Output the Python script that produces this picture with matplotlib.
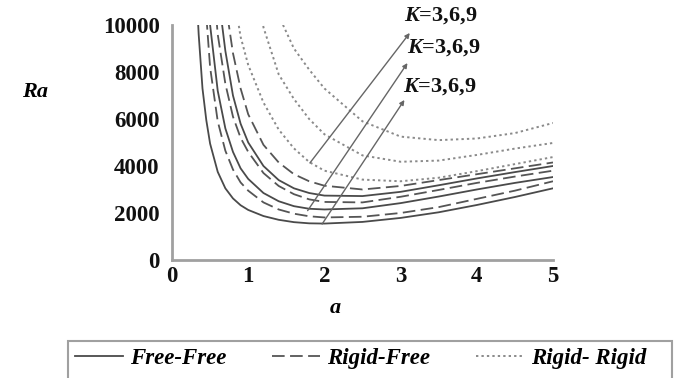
import numpy as np
import matplotlib
matplotlib.use("Agg")
import matplotlib.pyplot as plt
from matplotlib.lines import Line2D
from matplotlib.patches import Rectangle

plt.rcParams['font.family'] = ['Liberation Serif', 'DejaVu Serif']
plt.rcParams['mathtext.fontset'] = 'custom'
plt.rcParams['mathtext.it'] = 'Liberation Serif:bold:italic'
plt.rcParams['mathtext.rm'] = 'Liberation Serif:bold'

nan = np.nan
a_grid = [0.3, 0.35, 0.4, 0.45, 0.5, 0.6, 0.7, 0.8, 0.9, 1.0, 1.2, 1.4, 1.6, 1.8,
          2.0, 2.5, 3.0, 3.5, 4.0, 4.5, 5.0]

# Free-Free (solid), K = 3, 6, 9
ff_k3 = [12800, 9600, 7300, 5950, 4950, 3750, 3050, 2620, 2330, 2130, 1870, 1710, 1610, 1560,
         1550, 1620, 1790, 2030, 2340, 2680, 3050]
ff_k6 = [nan, 25000, 17000, 12500, 10000, 7200, 5600, 4600, 3900, 3450, 2850, 2500, 2290, 2180,
         2150, 2200, 2420, 2700, 3000, 3280, 3530]
ff_k9 = [nan, nan, 35000, 24000, 18000, 11500, 8900, 7000, 5800, 5000, 4000, 3400, 3050, 2850,
         2740, 2720, 2900, 3180, 3470, 3740, 4000]
# Rigid-Free (dashed), K = 3, 6, 9
rf_k3 = [nan, 20000, 13500, 10400, 8200, 5900, 4650, 3850, 3300, 2950, 2450, 2150, 1970, 1860,
         1810, 1840, 2000, 2250, 2600, 2950, 3350]
rf_k6 = [nan, 40000, 25000, 17500, 13500, 9600, 7500, 6100, 5200, 4600, 3700, 3150, 2800, 2580,
         2470, 2450, 2690, 2980, 3280, 3550, 3800]
rf_k9 = [nan, nan, nan, nan, 25000, 16000, 11000, 8800, 7300, 6200, 4900, 4150, 3650, 3350,
         3160, 3000, 3150, 3400, 3650, 3900, 4150]
# Rigid-Rigid (dotted), K = 3, 6, 9
rr_k3 = [nan, nan, nan, nan, nan, 25000, 17000, 11500, 9500, 8300, 6700, 5550, 4750, 4170,
         3800, 3420, 3350, 3500, 3780, 4080, 4380]
rr_k6 = [nan, nan, nan, nan, nan, nan, nan, nan, 22000, 15000, 9900, 7900, 6850, 6000,
         5350, 4450, 4180, 4230, 4470, 4740, 4980]
rr_k9 = [nan, nan, nan, nan, nan, nan, nan, nan, nan, nan, 13500, 10400, 9000, 8100,
         7300, 5900, 5250, 5100, 5170, 5400, 5830]

legend_labels = ['Free-Free', 'Rigid-Free', 'Rigid- Rigid']
k_label = '$K$=3,6,9'

# arrows (tail a, tail Ra, head a, head Ra): Free-Free, Rigid-Free, Rigid-Rigid
arrow_tail_a = [1.97, 1.78, 1.81]
arrow_tail_ra = [1530, 2100, 4130]
arrow_head_a = [3.05, 3.09, 3.12]
arrow_head_ra = [6810, 8380, 9660]
label_a = [3.03, 3.08, 3.05]
label_ra = [7360, 9020, 10380]

yticks = [0, 2000, 4000, 6000, 8000, 10000]
xticks = [0, 1, 2, 3, 4, 5]

fig = plt.figure(figsize=(6.74, 3.78), dpi=100)
ax = fig.add_axes([0.2552, 0.3122, 0.5653, 0.6217])

solid_style = dict(color='#4a4a4a', lw=1.3, ls='-')
dash_style = dict(color='#555555', lw=1.3, ls=(0, (7, 3)))
dot_style = dict(color='#8a8a8a', lw=1.4, ls=(0, (1.2, 1.6)))

for s in (ff_k3, ff_k6, ff_k9):
    ax.plot(a_grid, s, **solid_style)
for s in (rf_k3, rf_k6, rf_k9):
    ax.plot(a_grid, s, **dash_style)
for s in (rr_k3, rr_k6, rr_k9):
    ax.plot(a_grid, s, **dot_style)

for i in range(3):
    ax.annotate('', xy=(arrow_head_a[i], arrow_head_ra[i]),
                xytext=(arrow_tail_a[i], arrow_tail_ra[i]),
                arrowprops=dict(arrowstyle='-|>', color='#666666', lw=1.0,
                                mutation_scale=7, shrinkA=0, shrinkB=0),
                annotation_clip=False)
    ax.text(label_a[i], label_ra[i], k_label, ha='left', va='center',
            fontsize=16, fontweight='bold', color='#111111', clip_on=False)

ax.set_xlim(0, 5)
ax.set_ylim(0, 10000)
ax.set_xticks(xticks)
ax.set_yticks(yticks)
ax.set_xticklabels([str(v) for v in xticks])
ax.set_yticklabels([str(v) for v in yticks])
for lab in ax.get_xticklabels() + ax.get_yticklabels():
    lab.set_fontweight('bold')
    lab.set_fontsize(16.5)
    lab.set_color('#111111')
ax.tick_params(axis='both', length=0)
ax.tick_params(axis='y', pad=9)
ax.tick_params(axis='x', pad=4)
for sp in ('top', 'right'):
    ax.spines[sp].set_visible(False)
for sp in ('left', 'bottom'):
    ax.spines[sp].set_color('#a0a0a0')
    ax.spines[sp].set_linewidth(2)

fig.text(35 / 674, 1 - 92 / 378, 'Ra', ha='center', va='center', fontsize=16,
         fontweight='bold', fontstyle='italic')
fig.text(335 / 674, 1 - 308 / 378, 'a', ha='center', va='center', fontsize=16,
         fontweight='bold', fontstyle='italic')

# legend frame (extends past the bottom edge, as in the reference)
fig.patches.append(Rectangle((68 / 674, -0.05), (672 - 68) / 674, 0.05 + 37 / 378,
                             transform=fig.transFigure, fill=False,
                             edgecolor='#a0a0a0', linewidth=1.5))

handles = [Line2D([], [], **solid_style), Line2D([], [], **dash_style),
           Line2D([], [], **dot_style)]
leg = fig.legend(handles, legend_labels, loc='upper left',
                 bbox_to_anchor=(68 / 674, 1 - 341 / 378), ncol=3, frameon=False,
                 handlelength=2.1, handletextpad=0.3,
                 columnspacing=2.0, borderpad=0.3, borderaxespad=0,
                 prop=dict(family='Liberation Serif', weight='bold', style='italic', size=16.5))

fig.savefig('out.png', dpi=100)
